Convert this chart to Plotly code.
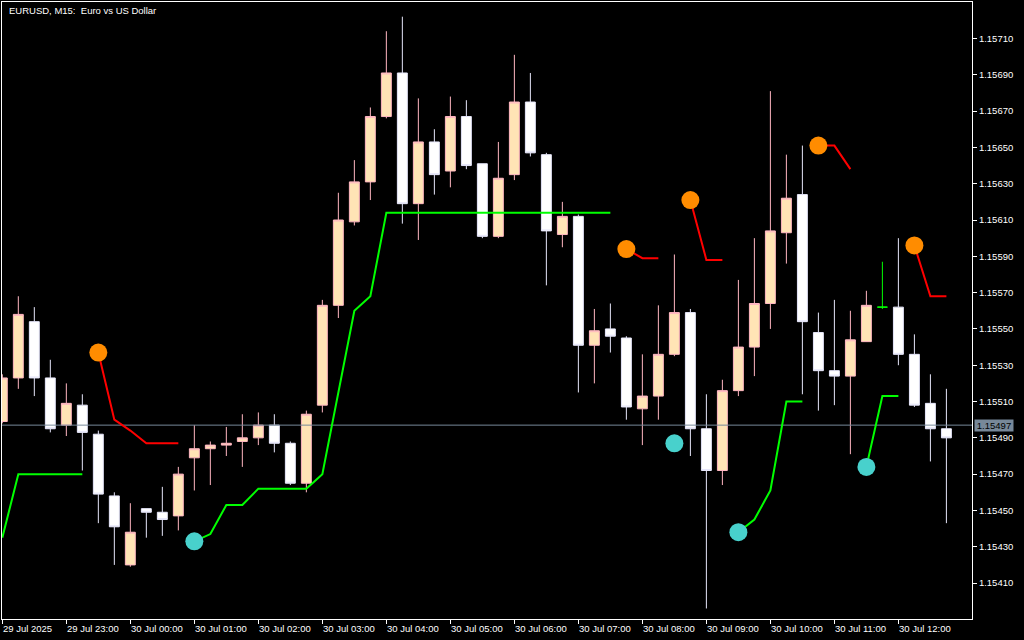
import plotly.graph_objects as go

# ---------------- data ----------------
time_labels = ["29 Jul 2025", "29 Jul 23:00", "30 Jul 00:00", "30 Jul 01:00", "30 Jul 02:00",
               "30 Jul 03:00", "30 Jul 04:00", "30 Jul 05:00", "30 Jul 06:00", "30 Jul 07:00",
               "30 Jul 08:00", "30 Jul 09:00", "30 Jul 10:00", "30 Jul 11:00", "30 Jul 12:00"]
label_bars = [0, 4, 8, 12, 16, 20, 24, 28, 32, 36, 40, 44, 48, 52, 56]

opens = [1.15499, 1.15523, 1.15554, 1.15523, 1.15497, 1.15508, 1.15492, 1.15458, 1.15420, 1.15451,
         1.15449, 1.15447, 1.15479, 1.15484, 1.15486, 1.15488, 1.15490, 1.15497, 1.15487, 1.15465,
         1.15508, 1.15563, 1.15609, 1.15631, 1.15667, 1.15691, 1.15619, 1.15653, 1.15637, 1.15667,
         1.15641, 1.15601, 1.15635, 1.15675, 1.15646, 1.15602, 1.15612, 1.15541, 1.15550, 1.15545,
         1.15506, 1.15513, 1.15536, 1.15559, 1.15495, 1.15472, 1.15516, 1.15540, 1.15564, 1.15603,
         1.15624, 1.15548, 1.15527, 1.15524, 1.15543, 1.15562, 1.15562, 1.15536, 1.15509, 1.15495]
highs = [1.15525, 1.15568, 1.15562, 1.15533, 1.15520, 1.15514, 1.15494, 1.15460, 1.15454, 1.15451,
         1.15463, 1.15474, 1.15497, 1.15488, 1.15496, 1.15503, 1.15504, 1.15503, 1.15488, 1.15505,
         1.15566, 1.15625, 1.15643, 1.15672, 1.15714, 1.15722, 1.15677, 1.15660, 1.15678, 1.15676,
         1.15641, 1.15653, 1.15701, 1.15691, 1.15647, 1.15620, 1.15613, 1.15561, 1.15564, 1.15546,
         1.15536, 1.15563, 1.15591, 1.15561, 1.15514, 1.15522, 1.15577, 1.15600, 1.15681, 1.15646,
         1.15651, 1.15559, 1.15566, 1.15560, 1.15571, 1.15587, 1.15600, 1.15547, 1.15525, 1.15517]
lows = [1.15498, 1.15517, 1.15513, 1.15493, 1.15491, 1.15472, 1.15443, 1.15420, 1.15419, 1.15435,
        1.15436, 1.15439, 1.15461, 1.15464, 1.15480, 1.15474, 1.15486, 1.15482, 1.15464, 1.15460,
        1.15504, 1.15556, 1.15607, 1.15621, 1.15666, 1.15608, 1.15599, 1.15624, 1.15628, 1.15638,
        1.15600, 1.15600, 1.15632, 1.15645, 1.15574, 1.15595, 1.15515, 1.15520, 1.15537, 1.15500,
        1.15486, 1.15500, 1.15535, 1.15480, 1.15396, 1.15464, 1.15513, 1.15524, 1.15550, 1.15586,
        1.15514, 1.15505, 1.15508, 1.15481, 1.15543, 1.15561, 1.15530, 1.15507, 1.15477, 1.15443]
closes = [1.15523, 1.15558, 1.15523, 1.15495, 1.15509, 1.15493, 1.15459, 1.15441, 1.15438, 1.15449,
          1.15445, 1.15470, 1.15484, 1.15486, 1.15487, 1.15490, 1.15497, 1.15487, 1.15465, 1.15503,
          1.15563, 1.15610, 1.15631, 1.15667, 1.15691, 1.15619, 1.15653, 1.15635, 1.15667, 1.15640,
          1.15601, 1.15633, 1.15675, 1.15647, 1.15604, 1.15612, 1.15541, 1.15549, 1.15546, 1.15507,
          1.15513, 1.15536, 1.15559, 1.15495, 1.15472, 1.15516, 1.15540, 1.15564, 1.15604, 1.15622,
          1.15554, 1.15527, 1.15524, 1.15544, 1.15563, 1.15562, 1.15536, 1.15508, 1.15495, 1.15490]

N = None
support_line = [1.15435, 1.15470, 1.15470, 1.15470, 1.15470, 1.15470, N, N, N, N,
                N, N, 1.15433, 1.15437, 1.15453, 1.15453, 1.15462, 1.15462, 1.15462, 1.15462,
                1.15470, 1.15515, 1.15560, 1.15568, 1.15614, 1.15614, 1.15614, 1.15614, 1.15614, 1.15614,
                1.15614, 1.15614, 1.15614, 1.15614, 1.15614, 1.15614, 1.15614, 1.15614, 1.15614, N,
                N, N, 1.15487, N, N, N, 1.15438, 1.15445, 1.15461, 1.15510,
                1.15510, N, N, N, 1.15474, 1.15513, 1.15513, N, N, N]
resistance_line = [N, N, N, N, N, N, 1.15537, 1.15500, 1.15494, 1.15487,
                   1.15487, 1.15487, N, N, N, N, N, N, N, N,
                   N, N, N, N, N, N, N, N, N, N,
                   N, N, N, N, N, N, N, N, N, 1.15594,
                   1.15589, 1.15589, N, 1.15621, 1.15588, 1.15588, N, N, N, N,
                   N, 1.15651, 1.15651, 1.15638, N, N, N, 1.15596, 1.15568, 1.15568]
buy_signal_bars = [12, 42, 46, 54]
sell_signal_bars = [6, 39, 43, 51, 57]
price_ticks = [1.15410, 1.15430, 1.15450, 1.15470, 1.15490, 1.15510, 1.15530, 1.15550,
               1.15570, 1.15590, 1.15610, 1.15630, 1.15650, 1.15670, 1.15690, 1.15710]
current_price = 1.15497
title_text = "EURUSD, M15:  Euro vs US Dollar"

# ---------------- figure ----------------
FONT = "Tahoma, 'Liberation Sans', Arial, sans-serif"
bars = list(range(len(opens)))
doji = [i for i in bars if opens[i] == closes[i]]
normal = [i for i in bars if opens[i] != closes[i]]

fig = go.Figure()

fig.add_trace(go.Candlestick(
    x=[bars[i] for i in normal],
    open=[opens[i] for i in normal], high=[highs[i] for i in normal],
    low=[lows[i] for i in normal], close=[closes[i] for i in normal],
    increasing=dict(fillcolor="#FFE4B5", line=dict(color="#FFB6C1", width=1)),
    decreasing=dict(fillcolor="#FFFFFF", line=dict(color="#E6E6FA", width=1)),
    whiskerwidth=0, hoverinfo="skip", showlegend=False))

fig.add_trace(go.Candlestick(
    x=[bars[i] for i in doji],
    open=[opens[i] for i in doji], high=[highs[i] for i in doji],
    low=[lows[i] for i in doji], close=[closes[i] for i in doji],
    increasing=dict(fillcolor="#00FF00", line=dict(color="#00FF00", width=1)),
    decreasing=dict(fillcolor="#00FF00", line=dict(color="#00FF00", width=1)),
    whiskerwidth=0, hoverinfo="skip", showlegend=False))

# current price line
fig.add_trace(go.Scatter(x=[bars[0] - 1, bars[-1] + 3], y=[current_price, current_price],
                         mode="lines", line=dict(color="#778899", width=1),
                         hoverinfo="skip", showlegend=False))

fig.add_trace(go.Scatter(x=bars, y=support_line, mode="lines",
                         line=dict(color="#00FF00", width=2), connectgaps=False,
                         hoverinfo="skip", showlegend=False))
fig.add_trace(go.Scatter(x=bars, y=resistance_line, mode="lines",
                         line=dict(color="#FF0000", width=2), connectgaps=False,
                         hoverinfo="skip", showlegend=False))

fig.add_trace(go.Scatter(x=buy_signal_bars, y=[support_line[i] for i in buy_signal_bars],
                         mode="markers", marker=dict(size=18, color="#48D1CC", line=dict(width=0)),
                         hoverinfo="skip", showlegend=False))
fig.add_trace(go.Scatter(x=sell_signal_bars, y=[resistance_line[i] for i in sell_signal_bars],
                         mode="markers", marker=dict(size=18, color="#FF8C00", line=dict(width=0)),
                         hoverinfo="skip", showlegend=False))

annotations = []
for b, t in zip(label_bars, time_labels):
    annotations.append(dict(x=b, y=-0.0151, xref="x", yref="paper", text=t, showarrow=False,
                            xanchor="left", yanchor="middle", xshift=-1,
                            font=dict(family=FONT, size=9.5, color="white")))
annotations.append(dict(x=0.0052, y=0.987, xref="paper", yref="paper", text=title_text,
                        showarrow=False, xanchor="left", yanchor="middle",
                        font=dict(family=FONT, size=9.5, color="white")))
annotations.append(dict(x=1, y=current_price, xref="paper", yref="y", text="%.5f" % current_price,
                        showarrow=False, xanchor="left", yanchor="middle", xshift=2,
                        bgcolor="#778899", width=38, height=11, borderpad=0,
                        font=dict(family=FONT, size=9.5, color="black")))

fig.update_layout(
    width=1024, height=640,
    margin=dict(l=2, r=52, t=2, b=21, autoexpand=False),
    paper_bgcolor="black", plot_bgcolor="black",
    annotations=annotations,
    hovermode=False,
    boxgap=0.38, boxgroupgap=0,
    xaxis=dict(range=[-0.02, 60.6], showgrid=False, zeroline=False,
               rangeslider=dict(visible=False),
               tickmode="array", tickvals=label_bars, ticks="outside", ticklen=4,
               tickcolor="white", showticklabels=False,
               showline=True, linecolor="white", linewidth=1, mirror=True),
    yaxis=dict(range=[1.153902, 1.157301], side="right", showgrid=False, zeroline=False,
               tickmode="array", tickvals=price_ticks, ticktext=["%.5f" % v for v in price_ticks],
               ticks="outside", ticklen=4, tickcolor="white",
               tickfont=dict(family=FONT, size=9.5, color="white"),
               showline=True, linecolor="white", linewidth=1, mirror=True),
)

fig.write_html("out.html", config={"displayModeBar": False},
               post_script="document.body.style.margin='0';document.body.style.background='black';")
